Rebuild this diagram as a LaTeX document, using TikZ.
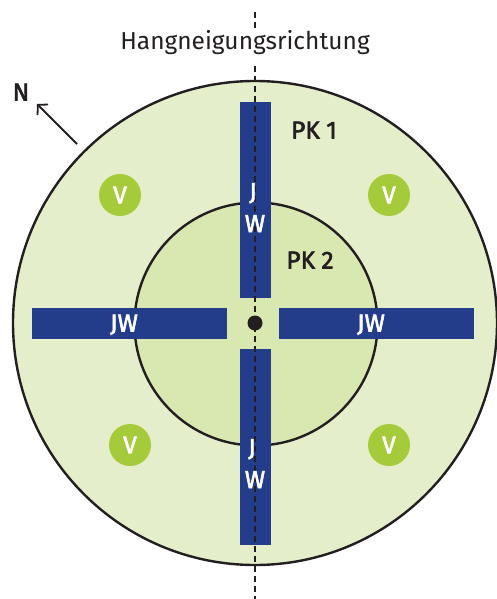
\documentclass[tikz,border=0pt]{standalone}
\usepackage{fontspec}
\setmainfont{Fira Sans}
\newfontfamily\medfont{Fira Sans}[FakeBold=2.4]
\usetikzlibrary{arrows.meta}
\definecolor{ringgreen}{HTML}{E4EECB}
\definecolor{coregreen}{HTML}{D9E8B1}
\definecolor{barblue}{HTML}{243D8B}
\definecolor{vgreen}{HTML}{A5CB3A}
\definecolor{ink}{HTML}{231F20}
\tikzset{
  bar/.style={fill=barblue, draw=none, inner sep=0pt},
  whitelabel/.style={text=white, font=\fontsize{24.5}{24.5}\selectfont\medfont, inner sep=0pt, anchor=base},
  darklabel/.style={text=ink, font=\fontsize{24.5}{24.5}\selectfont, inner sep=0pt, anchor=base},
  pklabel/.style={darklabel, font=\fontsize{24.5}{24.5}\selectfont\medfont},
  vdot/.style={circle, fill=vgreen, minimum size=42pt, inner sep=0pt, text=white, font=\fontsize{24.5}{24.5}\selectfont\medfont},
  axis/.style={draw=ink, line width=1.6pt, dash pattern=on 6pt off 4pt},
  rim/.style={draw=ink, line width=2.4pt}
}
\begin{document}
\begin{tikzpicture}[x=1pt, y=-1pt]
\useasboundingbox (0,0) rectangle (497,599);
% plots
\node[circle, rim, fill=ringgreen, minimum size=484pt, inner sep=0pt] (outer) at (255,323) {};
\node[circle, rim, fill=coregreen, minimum size=243pt, inner sep=0pt] (inner) at (256,324) {};
% transect bars
\node[bar, minimum width=31pt, minimum height=196pt] (barN) at (255.5,200) {};
\node[bar, minimum width=31pt, minimum height=196pt] (barS) at (255.5,447) {};
\node[bar, minimum width=195pt, minimum height=31pt] (barW) at (129.5,323.5) {};
\node[bar, minimum width=195pt, minimum height=31pt] (barE) at (376.5,323.5) {};
% slope axis
\node[darklabel] (slope) at (245,50) {Hangneigungsrichtung};
\coordinate (axtop) at (255,12);
\coordinate (axbot) at (255,599);
\draw[axis] (axtop) -- (255,29);
\draw[axis] (255,66) -- (axbot);
\node[circle, fill=ink, minimum size=15pt, inner sep=0pt] (centre) at (255,323) {};
% bar labels
\node[whitelabel] (jN) at (253,200) {J};
\node[whitelabel] (wN) at (255,232) {W};
\node[whitelabel] (jS) at (252,456) {J};
\node[whitelabel] (wS) at (255,488) {W};
\node[whitelabel] (jwW) at (124,331.5) {JW};
\node[whitelabel] (jwE) at (371,331.5) {JW};
% plot labels
\node[pklabel] (pk1) at (314,138.5) {PK 1};
\node[pklabel] (pk2) at (310,268.5) {PK 2};
% V points
\node[vdot] (v1) at (120,195) {V};
\node[vdot] (v2) at (389,195) {V};
\node[vdot] (v3) at (130,445) {V};
\node[vdot] (v4) at (389,445) {V};
% north arrow
\node[pklabel] (north) at (21,100.5) {N};
\coordinate (ntail) at (77,144);
\coordinate (nhead) at (37,104);
\draw[ink, line width=1.8pt, -{Straight Barb[length=7pt, width=15pt]}] (ntail) -- (nhead);
\end{tikzpicture}
\end{document}
